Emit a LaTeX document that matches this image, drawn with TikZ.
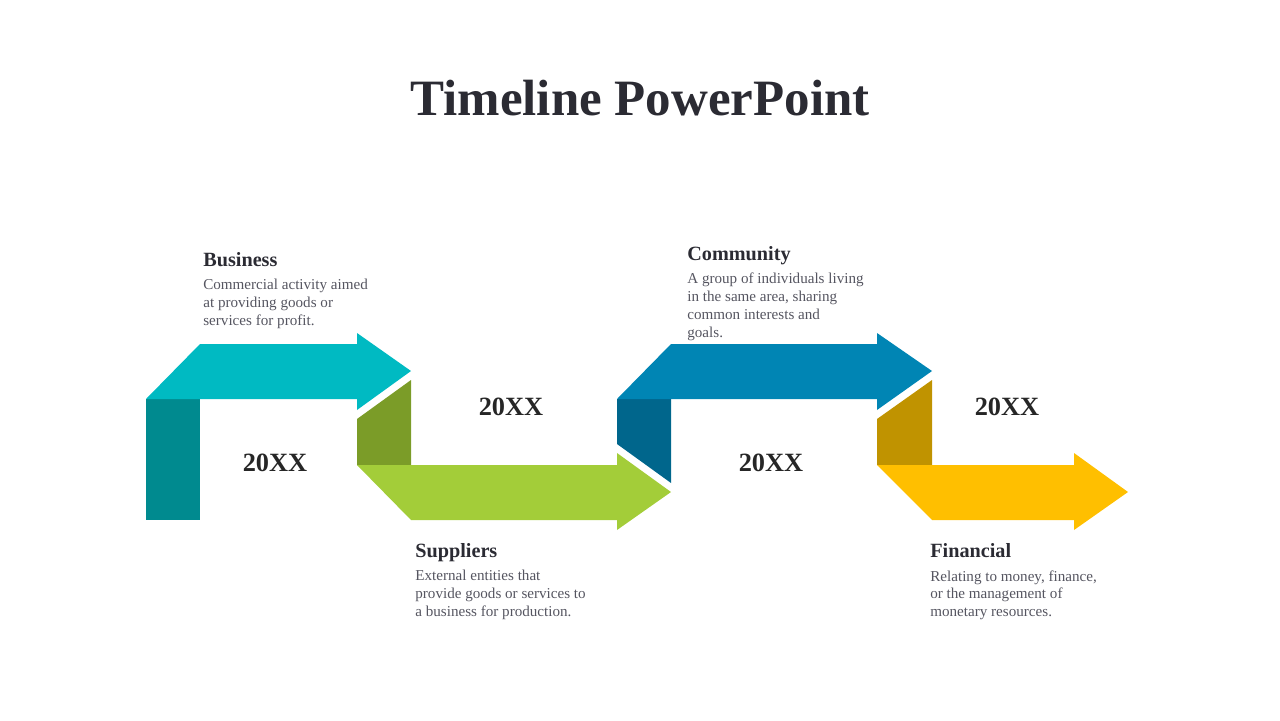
\documentclass[tikz,border=0pt]{standalone}
\usepackage{fontspec}
\setmainfont{Liberation Serif}
\usetikzlibrary{positioning}
\definecolor{tealtop}{HTML}{00BAC2}
\definecolor{tealside}{HTML}{008A8F}
\definecolor{greenbot}{HTML}{A3CD39}
\definecolor{greenside}{HTML}{7B9C28}
\definecolor{bluetop}{HTML}{0085B4}
\definecolor{blueside}{HTML}{00668C}
\definecolor{yellowbot}{HTML}{FFBF00}
\definecolor{yellowside}{HTML}{C09300}
\definecolor{headgray}{HTML}{2B2B33}
\definecolor{bodygray}{HTML}{555560}
\tikzset{
  head/.style={anchor=base west, inner sep=0pt, font=\fontsize{11.5}{13}\selectfont\bfseries, text=headgray},
  body/.style={anchor=north west, inner sep=0pt, align=left, font=\fontsize{8.6}{10.2}\selectfont, text=bodygray},
  year/.style={inner sep=0pt, font=\fontsize{15}{17}\selectfont\bfseries, text=black!85},
}
\begin{document}
\begin{tikzpicture}[x=0.02cm, y=-0.02cm]
    \useasboundingbox (0,0) rectangle (1280,720);

    % Title
    \node[inner sep=0pt, font=\fontsize{29}{34}\selectfont\bfseries, text=headgray] (title) at (640,98) {Timeline PowerPoint};

    % Band shapes
    \fill[tealside] (146,399) rectangle (200,520);
    \fill[tealtop] (146,399) -- (200,344) -- (357,344) -- (357,333) -- (411,371) -- (357,410) -- (357,399) -- cycle;
    \fill[greenside] (357,419) -- (411,380) -- (411,465) -- (357,465) -- cycle;
    \fill[greenbot] (357,465) -- (617,465) -- (617,453) -- (671,492) -- (617,530) -- (617,520) -- (411,520) -- cycle;
    \fill[blueside] (617,399) -- (671,399) -- (671,483) -- (617,444) -- cycle;
    \fill[bluetop] (617,399) -- (671,344) -- (877,344) -- (877,333) -- (932,371) -- (877,410) -- (877,399) -- cycle;
    \fill[yellowside] (877,419) -- (932,380) -- (932,465) -- (877,465) -- cycle;
    \fill[yellowbot] (877,465) -- (1074,465) -- (1074,453) -- (1128,492) -- (1074,530) -- (1074,520) -- (932,520) -- cycle;

    % Years
    \node[year] (y1) at (275,463) {20XX};
    \node[year] (y2) at (511,407) {20XX};
    \node[year] (y3) at (771,463) {20XX};
    \node[year] (y4) at (1007,407) {20XX};

    % Labels
    \node[head] (h1) at (203,266) {Business};
    \node[body] (b1) at (203,279) {Commercial activity aimed\\at providing goods or\\services for profit.};
    \node[head] (h2) at (687,260) {Community};
    \node[body] (b2) at (687,273) {A group of individuals living\\in the same area, sharing\\common interests and\\goals.};
    \node[head] (h3) at (415,557) {Suppliers};
    \node[body] (b3) at (415,570) {External entities that\\provide goods or services to\\a business for production.};
    \node[head] (h4) at (930,557) {Financial};
    \node[body] (b4) at (930,570) {Relating to money, finance,\\or the management of\\monetary resources.};
\end{tikzpicture}
\end{document}
